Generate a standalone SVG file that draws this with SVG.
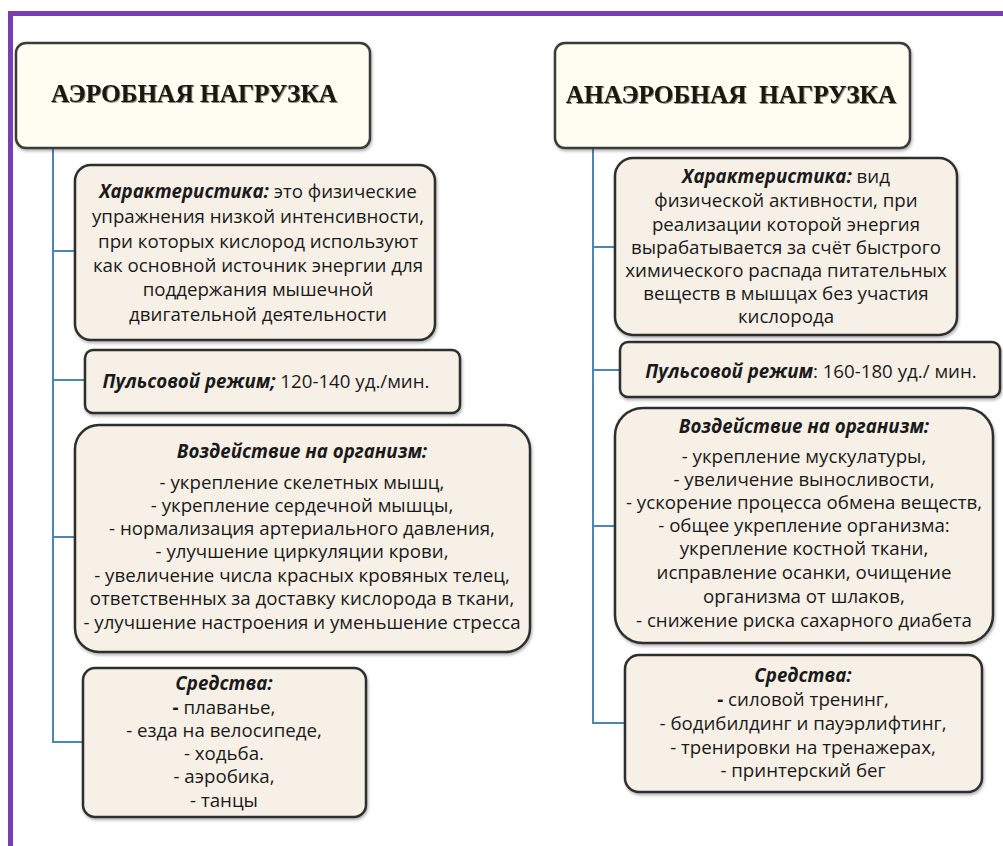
<svg xmlns="http://www.w3.org/2000/svg" width="1003" height="846" viewBox="0 0 1003 846">
<defs>
<filter id="sh" x="-5%" y="-5%" width="110%" height="115%">
<feDropShadow dx="1" dy="2" stdDeviation="1.5" flood-color="#000" flood-opacity="0.3"/>
</filter>
<filter id="tsh" x="-5%" y="-20%" width="110%" height="150%">
<feDropShadow dx="1" dy="1" stdDeviation="0.6" flood-color="#000" flood-opacity="0.45"/>
</filter>
</defs>
<style>
.frame{fill:none;stroke:#7a3db3;stroke-width:5}
.title{fill:#fefdf1;stroke:#3a3a3a;stroke-width:2.5}
.box{fill:#f6f0e6;stroke:#2e2e2e;stroke-width:2.5}
.conn{fill:none;stroke:#4a88b4;stroke-width:2}
.tt{font-family:"Liberation Serif",serif;font-weight:bold;font-size:25.3px;fill:#1a1410;text-anchor:middle}
.t{font-family:"Open Sans","Noto Sans",sans-serif;font-size:18.7px;fill:#1a1a1a;text-anchor:middle}
.b{font-weight:bold;font-style:italic}
.bd{font-weight:bold}
</style>
<rect width="1003" height="846" fill="#ffffff"/>
<path class="frame" d="M10.5 846 V13.5 H1003"/>

<g id="connectors">
<path class="conn" d="M53 148 V742 H83 M53 251 H75 M53 380 H85 M53 537 H75"/>
<path class="conn" d="M593 148 V723 H625 M593 247 H615 M593 370 H620 M593 526 H615"/>
</g>

<g id="aerobic-title">
<rect class="title" x="16" y="43" width="354" height="105" rx="10" filter="url(#sh)"/>
<text class="tt" x="194" y="102" filter="url(#tsh)">АЭРОБНАЯ НАГРУЗКА</text>
</g>

<g id="anaerobic-title">
<rect class="title" x="555" y="43" width="355" height="105" rx="10" filter="url(#sh)"/>
<text class="tt" x="731" y="103" filter="url(#tsh)" xml:space="preserve">АНАЭРОБНАЯ  НАГРУЗКА</text>
</g>

<g id="aerobic-char">
<rect class="box" x="75" y="165" width="360" height="175" rx="16" filter="url(#sh)"/>
<text class="t" x="258" y="198"><tspan class="b">Характеристика:</tspan> это физические</text>
<text class="t" x="258" y="223">упражнения низкой интенсивности,</text>
<text class="t" x="258" y="248">при которых кислород используют</text>
<text class="t" x="258" y="272">как основной источник энергии для</text>
<text class="t" x="258" y="296">поддержания мышечной</text>
<text class="t" x="258" y="321">двигательной деятельности</text>
</g>

<g id="aerobic-pulse">
<rect class="box" x="85" y="350" width="375" height="63" rx="8" filter="url(#sh)"/>
<text class="t" x="266" y="388"><tspan class="b">Пульсовой режим;</tspan> 120-140 уд./мин.</text>
</g>

<g id="aerobic-effect">
<rect class="box" x="75" y="425" width="455" height="227" rx="24" filter="url(#sh)"/>
<text class="t b" x="302" y="458">Воздействие на организм:</text>
<text class="t" x="302" y="489">- укрепление скелетных мышц,</text>
<text class="t" x="302" y="512">- укрепление сердечной мышцы,</text>
<text class="t" x="302" y="535">- нормализация артериального давления,</text>
<text class="t" x="302" y="558">- улучшение циркуляции крови,</text>
<text class="t" x="302" y="582">- увеличение числа красных кровяных телец,</text>
<text class="t" x="302" y="605">ответственных за доставку кислорода в ткани,</text>
<text class="t" x="302" y="629">- улучшение настроения и уменьшение стресса</text>
</g>

<g id="aerobic-means">
<rect class="box" x="83" y="668" width="283" height="149" rx="12" filter="url(#sh)"/>
<text class="t b" x="224" y="690">Средства:</text>
<text class="t" x="224" y="714"><tspan class="bd">-</tspan> плаванье,</text>
<text class="t" x="224" y="737">- езда на велосипеде,</text>
<text class="t" x="224" y="760">- ходьба.</text>
<text class="t" x="224" y="783">- аэробика,</text>
<text class="t" x="224" y="807">- танцы</text>
</g>

<g id="anaerobic-char">
<rect class="box" x="615" y="158" width="342" height="177" rx="18" filter="url(#sh)"/>
<text class="t" x="786" y="183"><tspan class="b">Характеристика:</tspan> вид</text>
<text class="t" x="786" y="207">физической активности, при</text>
<text class="t" x="786" y="231">реализации которой энергия</text>
<text class="t" x="786" y="254">вырабатывается за счёт быстрого</text>
<text class="t" x="786" y="277">химического распада питательных</text>
<text class="t" x="786" y="300">веществ в мышцах без участия</text>
<text class="t" x="786" y="323">кислорода</text>
</g>

<g id="anaerobic-pulse">
<rect class="box" x="620" y="342" width="380" height="55" rx="8" filter="url(#sh)"/>
<text class="t" x="811" y="378"><tspan class="b">Пульсовой режим</tspan>: 160-180 уд./ мин.</text>
</g>

<g id="anaerobic-effect">
<rect class="box" x="615" y="408" width="378" height="235" rx="28" filter="url(#sh)"/>
<text class="t b" x="804" y="433">Воздействие на организм:</text>
<text class="t" x="804" y="463">- укрепление мускулатуры,</text>
<text class="t" x="804" y="486">- увеличение выносливости,</text>
<text class="t" x="804" y="509">- ускорение процесса обмена веществ,</text>
<text class="t" x="804" y="532">- общее укрепление организма:</text>
<text class="t" x="804" y="555">укрепление костной ткани,</text>
<text class="t" x="804" y="579">исправление осанки, очищение</text>
<text class="t" x="804" y="603">организма от шлаков,</text>
<text class="t" x="804" y="627">- снижение риска сахарного диабета</text>
</g>

<g id="anaerobic-means">
<rect class="box" x="625" y="655" width="357" height="137" rx="14" filter="url(#sh)"/>
<text class="t b" x="803" y="682">Средства:</text>
<text class="t" x="803" y="706"><tspan class="bd">-</tspan> силовой тренинг,</text>
<text class="t" x="803" y="730">- бодибилдинг и пауэрлифтинг,</text>
<text class="t" x="803" y="754">- тренировки на тренажерах,</text>
<text class="t" x="803" y="777">- принтерский бег</text>
</g>
</svg>
